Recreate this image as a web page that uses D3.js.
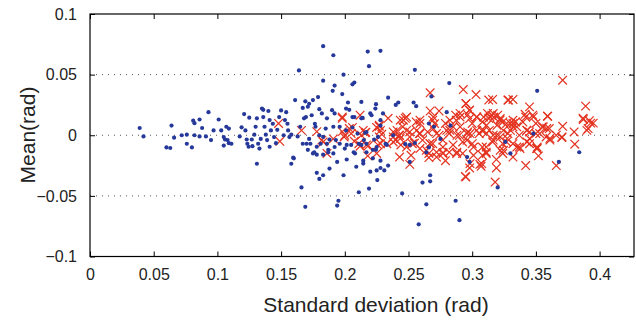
<!DOCTYPE html>
<html>
<head>
<meta charset="utf-8">
<script src="https://cdn.jsdelivr.net/npm/d3@7"></script>
<style>
  body { margin: 0; background: #fff; }
  text { font-family: "Liberation Sans", Arial, Helvetica, sans-serif; fill: #222; }
</style>
</head>
<body>
<div id="chart"></div>
<script>
// tick values
const xTicks = [0, 0.05, 0.1, 0.15, 0.2, 0.25, 0.3, 0.35, 0.4];
const yTicks = [-0.1, -0.05, 0, 0.05, 0.1];
const gridLines = [-0.05, 0, 0.05];

// blue dots: [standard deviation, mean]
const bluePoints = [
  [0.039,0.006],[0.042,-0.001],[0.064,0.008],[0.060,-0.010],[0.063,-0.0105],[0.066,-0.002],[0.072,0.000],[0.076,0.0005],
  [0.076,-0.007],[0.080,-0.010],[0.082,0.000],[0.081,0.012],[0.082,0.010],[0.086,0.013],[0.088,0.006],[0.086,-0.001],
  [0.091,-0.001],[0.093,0.019],[0.095,-0.004],[0.097,0.004],[0.101,0.013],[0.103,0.004],[0.105,-0.0015],[0.106,-0.0035],
  [0.107,0.007],[0.109,0.0055],[0.108,-0.004],[0.109,-0.0065],[0.105,-0.0085],[0.111,-0.007],[0.1175,-0.001],[0.119,0.0065],
  [0.121,0.0175],[0.122,0.004],[0.123,-0.0035],[0.1235,-0.007],[0.1245,-0.0095],[0.125,0.0145],[0.127,-0.0035],[0.1275,-0.009],
  [0.129,0.0005],[0.130,0.007],[0.131,0.014],[0.132,-0.007],[0.133,-0.011],[0.134,-0.003],[0.135,0.022],[0.136,0.021],
  [0.136,0.015],[0.137,0.007],[0.138,0.0005],[0.139,-0.004],[0.140,0.020],[0.141,0.0125],[0.142,0.004],[0.141,-0.0095],
  [0.1435,0.0095],[0.1445,-0.0015],[0.146,-0.0065],[0.147,0.0045],[0.1485,0.015],[0.150,0.0205],[0.152,0.000],[0.153,0.0125],
  [0.154,0.019],[0.155,0.0095],[0.1555,0.004],[0.1565,-0.0015],[0.158,0.0005],[0.1595,-0.0185],[0.161,0.029],[0.163,-0.001],
  [0.164,0.0535],[0.165,0.007],[0.167,0.0225],[0.168,0.014],[0.169,0.028],[0.1695,0.015],[0.170,-0.007],[0.171,0.0235],
  [0.172,-0.003],[0.174,0.0165],[0.175,0.029],[0.176,-0.014],[0.1765,0.0095],[0.178,-0.0095],[0.179,0.0315],
  [0.131,-0.0235],[0.158,-0.0235],[0.178,-0.031],[0.166,-0.043],[0.169,-0.059],[0.180,-0.036],
  [0.160,-0.019],[0.183,-0.033],[0.188,-0.0275],[0.194,-0.022],[0.195,-0.054],[0.194,-0.058],[0.199,-0.033],[0.2015,-0.020],
  [0.209,-0.026],[0.211,-0.047],[0.2145,-0.021],[0.219,-0.044],[0.220,-0.030],[0.225,-0.029],[0.2255,-0.037],[0.187,-0.012],
  [0.191,-0.015],[0.175,-0.015],[0.178,-0.016],[0.171,-0.012],[0.167,-0.007],[0.173,-0.007],[0.181,-0.007],[0.186,-0.007],
  [0.192,-0.0097],[0.196,-0.007],[0.2015,-0.008],[0.205,-0.008],[0.207,-0.014],[0.208,-0.015],[0.217,-0.014],[0.222,-0.012],
  [0.225,-0.0097],
  [0.213,0.014],[0.220,0.018],[0.221,0.0165],[0.230,0.018],[0.228,0.008],[0.226,-0.0014],[0.217,-0.007],[0.213,-0.008],
  [0.2245,-0.012],[0.232,-0.007],[0.233,-0.008],[0.238,0.0],[0.222,-0.019],[0.2145,-0.0234],[0.228,-0.021],[0.234,-0.025],
  [0.228,-0.027],[0.231,-0.029],[0.245,-0.048],[0.251,-0.022],[0.261,-0.039],[0.267,-0.033],[0.267,-0.038],[0.264,-0.014],
  [0.266,-0.010],[0.266,0.0097],[0.270,0.007],[0.255,-0.0064],[0.275,-0.003],[0.287,-0.054],[0.264,-0.057],[0.290,-0.070],
  [0.296,-0.018],[0.298,-0.022],[0.280,0.019],[0.326,-0.0055],[0.330,-0.015],[0.320,-0.043],
  [0.348,0.0014],[0.384,-0.014],[0.368,-0.022],
  [0.228,0.0696],[0.218,0.069],[0.219,0.057],[0.255,0.054],[0.282,0.043],[0.268,0.032],[0.213,0.0275],[0.2245,0.0256],
  [0.224,0.022],[0.234,0.031],[0.240,0.025],[0.242,0.027],[0.254,0.027],[0.256,0.024],[0.228,0.0124],[0.283,0.008],
  [0.217,0.0027],[0.215,-0.004],[0.251,-0.008],
  [0.351,0.0366],[0.192,0.041],[0.1905,0.0366],[0.198,0.034],[0.206,0.042],[0.2075,0.0435],[0.2025,0.027],[0.180,0.0215],
  [0.182,0.018],[0.186,0.014],[0.190,0.0207],[0.192,0.018],[0.201,0.022],[0.2035,0.021],[0.206,0.015],[0.2075,0.015],
  [0.214,0.0143],[0.177,0.007],[0.185,0.0055],[0.191,0.007],[0.196,0.007],[0.201,0.004],[0.206,0.0064],[0.210,0.0014],
  [0.216,0.002],[0.223,-0.0036],[0.180,0.0],[0.183,-0.0014],[0.188,-0.0036],[0.193,-0.004],[0.200,-0.011],[0.211,-0.007],
  [0.183,-0.016],[0.187,-0.014],[0.2475,-0.0074],
  [0.258,-0.0735],[0.183,0.0735],[0.191,0.066],[0.183,0.045],[0.199,0.050],[0.172,0.026]
];

// red crosses: [standard deviation, mean]
const redPoints = [
  [0.148,0.0097],[0.149,-0.005],[0.166,0.004],[0.178,0.003],[0.182,-0.004],[0.186,-0.015],[0.191,-0.003],[0.198,0.014],
  [0.212,0.0165],[0.206,0.0064],[0.198,0.003],[0.200,0.0],[0.1995,-0.0014],[0.216,0.002],[0.2075,-0.005],[0.212,-0.009],
  [0.218,-0.017],[0.217,-0.008],[0.225,0.0064],[0.227,-0.0014],[0.226,-0.008],
  [0.371,0.0454],[0.267,0.035],[0.293,0.0377],[0.303,0.0336],[0.313,0.029],[0.316,0.0295],[0.328,0.029],[0.332,0.0295],
  [0.389,0.024],[0.267,0.020],[0.274,0.020],[0.295,0.026],[0.298,0.0207],[0.345,0.0234],[0.287,0.0165],[0.2965,0.017],
  [0.312,0.018],[0.313,0.014],[0.320,0.0165],[0.3475,0.0165],[0.359,0.0157],[0.387,0.014],[0.393,0.010],[0.392,0.012],
  [0.371,0.0074],[0.391,0.0055],[0.380,0.0027],[0.3705,-0.0014],[0.3805,-0.0074],[0.234,0.014],[0.2475,0.014],[0.227,0.0074],
  [0.2455,0.007],[0.256,0.011],[0.269,0.0124],[0.279,0.0097],[0.285,0.007],[0.300,0.0097],[0.308,0.011],[0.324,0.011],
  [0.332,0.0097],[0.334,0.011],[0.342,0.015],[0.350,0.0097],[0.355,0.007],[0.3605,0.0055],[0.366,0.0],[0.238,0.0027],
  [0.243,0.0],[0.251,0.0027],[0.2585,0.0014],[0.265,0.0027],[0.274,0.0],[0.282,0.0014],[0.290,0.0],[0.2965,0.0027],
  [0.3055,0.0014],[0.3135,0.004],[0.319,0.0],[0.328,0.0014],[0.337,0.0],[0.345,0.0027],[0.350,0.0014],[0.358,-0.0014],
  [0.2035,0.0055],[0.213,0.0],[0.205,0.0014],[0.183,-0.0055],[0.211,-0.007],[0.240,-0.004],[0.244,-0.008],[0.253,-0.007],
  [0.261,-0.004],[0.269,-0.007],[0.277,-0.004],[0.285,-0.008],[0.2925,-0.0055],[0.300,-0.007],[0.308,-0.0097],[0.316,-0.0055],
  [0.324,-0.007],[0.332,-0.007],[0.337,-0.0097],[0.345,-0.007],[0.351,-0.0097],[0.243,-0.018],[0.252,-0.0165],[0.266,-0.015],
  [0.282,-0.014],[0.2925,-0.015],[0.308,-0.0165],[0.324,-0.015],[0.332,-0.018],
  [0.229,0.0008],[0.251,-0.024],[0.266,-0.0184],[0.279,-0.021],[0.295,-0.0344],[0.298,-0.027],[0.306,-0.024],[0.319,-0.020],
  [0.319,-0.027],[0.318,-0.0386],[0.301,-0.0165],[0.311,-0.014],[0.3245,-0.0124],[0.335,-0.0097],[0.327,-0.0055],[0.277,-0.015],
  [0.288,-0.014],[0.272,-0.014],[0.259,-0.011],[0.238,-0.0055],[0.2435,-0.0027],[0.251,-0.0014],[0.2565,0.004],[0.272,0.0014],
  [0.280,0.004],[0.288,0.0],[0.296,0.0014],[0.3035,0.004],[0.311,0.0014],[0.3165,-0.004],[0.322,-0.0014],[0.330,0.004],
  [0.335,0.007],[0.327,0.0097],[0.246,0.0124],[0.2485,0.015],[0.259,0.0097],[0.2695,0.015],[0.2825,0.0124],[0.2905,0.015],
  [0.298,0.0138],[0.309,0.015],[0.3165,0.018],[0.241,0.004],[0.233,-0.007],[0.225,-0.015],
  [0.395,0.010],[0.390,0.004],[0.3415,0.0173],[0.3585,0.0055],[0.353,0.0014],[0.361,-0.0027],[0.343,-0.0055],[0.352,-0.017],
  [0.342,-0.025],[0.366,-0.025],[0.322,-0.0124],[0.311,-0.0097],[0.332,0.0124],[0.317,0.015],[0.3245,0.004],[0.307,-0.0256],
  [0.2435,0.0124],[0.259,0.0124],[0.2905,0.018],[0.3035,0.015],[0.322,0.0138],[0.228,0.004],[0.238,-0.0014],[0.2485,0.004],
  [0.2695,0.0055],[0.2905,0.007],[0.309,0.004],[0.3165,0.0],[0.2485,-0.0097],[0.264,-0.0124],[0.277,-0.0097],[0.301,-0.0097],
  [0.311,-0.015],[0.272,-0.018],[0.228,-0.007],[0.2145,0.004],
  [0.361,-0.004],[0.343,0.004],[0.345,-0.0027],[0.351,-0.011],[0.330,0.0097],[0.332,0.007],[0.314,0.015],
  [0.198,0.015],[0.2165,0.0025],[0.227,0.0083],[0.2185,-0.0085],[0.267,-0.0069],[0.3593,0.0157],[0.3703,-0.0019],[0.3872,0.013],
  [0.348,0.0151],[0.3375,-0.011],[0.3075,-0.0234],[0.2946,-0.0339],[0.2983,-0.0234],[0.3036,0.0151],[0.3154,0.0165],[0.3285,0.029],
  [0.2952,0.0262],[0.2978,0.0207],[0.2591,0.0014],[0.2983,0.0014],[0.3075,0.004],[0.3219,0.0124],[0.3558,0.0069],[0.3506,-0.011],
  [0.3428,0.0041],[0.2771,-0.0145],[0.2878,-0.0151],[0.2669,-0.0069],[0.2426,0.0],[0.2547,-0.0064],[0.2824,0.0041],[0.2959,-0.0041],
  [0.3112,0.0082],[0.3195,0.0082],[0.2705,0.0096],[0.2875,0.0123],[0.3275,-0.0027],[0.3398,0.0109]
];

const W = 636, H = 320;
const margin = { top: 14, right: 2, bottom: 63.5, left: 90 };
const width = W - margin.left - margin.right;
const height = H - margin.top - margin.bottom;

const svg = d3.select('#chart').append('svg')
  .attr('width', W)
  .attr('height', H);

const g = svg.append('g')
  .attr('transform', `translate(${margin.left},${margin.top})`);

const x = d3.scaleLinear().domain([0, 0.427]).range([0, width]);
const y = d3.scaleLinear().domain([-0.1, 0.1]).range([height, 0]);

// dotted grid
g.selectAll('.grid')
  .data(gridLines)
  .enter().append('line')
  .attr('x1', 0).attr('x2', width)
  .attr('y1', d => y(d)).attr('y2', d => y(d))
  .attr('stroke', '#555')
  .attr('stroke-width', 1)
  .attr('stroke-dasharray', '1,5');

// red crosses
const s = 4.3;
g.append('g').selectAll('path')
  .data(redPoints)
  .enter().append('path')
  .attr('d', d => {
    const cx = x(d[0]), cy = y(d[1]);
    return `M${cx - s},${cy - s}L${cx + s},${cy + s}M${cx - s},${cy + s}L${cx + s},${cy - s}`;
  })
  .attr('stroke', '#e4321f')
  .attr('stroke-width', 1.2)
  .attr('fill', 'none');

// blue dots
g.append('g').selectAll('circle')
  .data(bluePoints)
  .enter().append('circle')
  .attr('cx', d => x(d[0]))
  .attr('cy', d => y(d[1]))
  .attr('r', 2.1)
  .attr('fill', '#26399b');

// axes, ticks pointing inward
const fmt = d => d === 0 ? '0' : d3.format('')(d).replace('-', '\u2212');

const xAxis = g.append('g')
  .attr('transform', `translate(0,${height})`)
  .call(d3.axisBottom(x).tickValues(xTicks).tickSize(-5).tickPadding(12).tickFormat(fmt));
const xTop = g.append('g')
  .call(d3.axisTop(x).tickValues(xTicks).tickSize(-5).tickFormat(''));
const yAxis = g.append('g')
  .call(d3.axisLeft(y).tickValues(yTicks).tickSize(-5).tickPadding(13).tickFormat(fmt));
const yRight = g.append('g')
  .attr('transform', `translate(${width},0)`)
  .call(d3.axisRight(y).tickValues(yTicks).tickSize(-5).tickFormat(''));

[xAxis, xTop, yAxis, yRight].forEach(a => {
  a.select('.domain').remove();
  a.selectAll('.tick line').attr('stroke', '#000');
  a.selectAll('.tick text')
    .style('font-size', '16px')
    .style('font-family', '"Liberation Sans", Arial, sans-serif')
    .attr('fill', '#222');
});

// box
g.append('rect')
  .attr('x', 0).attr('y', 0)
  .attr('width', width).attr('height', height)
  .attr('fill', 'none')
  .attr('stroke', '#000')
  .attr('stroke-width', 1.2);

// axis titles
svg.append('text')
  .attr('x', 376)
  .attr('y', 312)
  .attr('text-anchor', 'middle')
  .style('font-size', '21px')
  .text('Standard deviation (rad)');

svg.append('text')
  .attr('transform', 'rotate(-90)')
  .attr('x', -135)
  .attr('y', 35)
  .attr('text-anchor', 'middle')
  .style('font-size', '21px')
  .text('Mean(rad)');
</script>
</body>
</html>
